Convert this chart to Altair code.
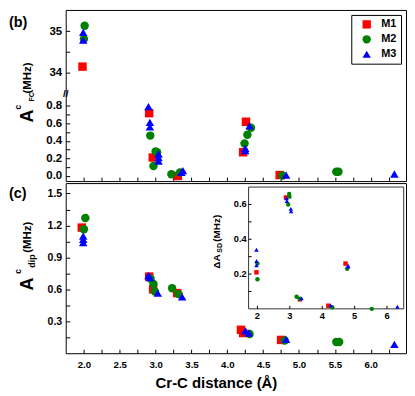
import altair as alt
import pandas as pd

SERIES = ["M1", "M2", "M3"]
COLORS = ["#ff0000", "#008000", "#0000ff"]
SHAPES = ["square", "circle", "triangle-up"]

# ---- panel (b): Fermi-contact term A^C_FC (MHz)
b_m1_d = [1.98, 2.91, 2.96, 3.31, 4.26, 4.22, 4.73]
b_m1_v = [34.14, 0.716, 0.21, 0.0, 0.618, 0.27, 0.01]
b_m2_d = [2.01, 2.00, 2.925, 3.00, 3.02, 2.97, 3.22, 3.34, 4.33, 4.28, 4.24, 4.77, 5.52, 5.55]
b_m2_v = [35.13, 34.81, 0.46, 0.28, 0.27, 0.114, 0.02, 0.04, 0.55, 0.47, 0.37, 0.005, 0.048, 0.048]
b_m3_d = [1.99, 1.99, 2.90, 2.92, 2.92, 3.04, 3.04, 3.04, 3.36, 3.38, 4.31, 4.25, 4.25, 4.82, 6.33]
b_m3_v = [34.97, 34.78, 0.79, 0.61, 0.56, 0.25, 0.21, 0.17, 0.04, 0.06, 0.57, 0.315, 0.29, 0.01, 0.022]

# ---- panel (c): dipolar term A^C_dip (MHz)
c_m1_d = [1.97, 2.91, 2.965, 3.30, 4.19, 4.22, 4.75]
c_m1_v = [1.18, 0.72, 0.60, 0.565, 0.22, 0.19, 0.125]
c_m2_d = [2.02, 2.00, 2.93, 2.97, 2.99, 3.23, 3.32, 4.31, 4.80, 5.52, 5.56]
c_m2_v = [1.27, 1.165, 0.70, 0.65, 0.58, 0.61, 0.555, 0.18, 0.12, 0.105, 0.105]
c_m3_d = [1.99, 1.99, 1.99, 2.90, 2.92, 3.03, 3.37, 4.25, 4.30, 4.82, 6.33]
c_m3_v = [1.10, 1.07, 1.04, 0.73, 0.71, 0.565, 0.53, 0.21, 0.19, 0.13, 0.084]

# ---- inset: Delta A_SD (MHz)
i_m1_d = [1.97, 2.88, 3.31, 4.19, 4.72]
i_m1_v = [0.21, 0.64, 0.055, 0.018, 0.26]
i_m2_d = [2.00, 2.00, 2.98, 2.99, 2.95, 3.21, 3.31, 4.31, 4.77, 5.53]
i_m2_v = [0.26, 0.17, 0.66, 0.645, 0.60, 0.07, 0.058, 0.009, 0.23, 0.0]
i_m3_d = [1.97, 1.97, 1.97, 2.90, 2.91, 3.03, 3.04, 3.36, 4.26, 4.80, 4.80, 6.32]
i_m3_v = [0.34, 0.275, 0.25, 0.635, 0.62, 0.575, 0.56, 0.06, 0.02, 0.248, 0.243, 0.012]

# ---- tick values
X_TICKS = [2.0, 2.25, 2.5, 2.75, 3.0, 3.25, 3.5, 3.75, 4.0, 4.25, 4.5, 4.75, 5.0, 5.25, 5.5, 5.75, 6.0, 6.25]
B_TICKS = [0.0, 0.1, 0.2, 0.3, 0.4, 0.5, 0.6, 0.7, 0.8, 34.0, 34.5, 35.0]
C_TICKS = [0.15, 0.3, 0.45, 0.6, 0.75, 0.9, 1.05, 1.2, 1.35, 1.5]
I_X_TICKS = [2, 3, 4, 5, 6]
I_Y_TICKS = [0.1, 0.2, 0.3, 0.4, 0.5, 0.6]
I_Y_LABELS = [0.2, 0.4, 0.6]

FONT = "Liberation Sans"

# ---- layout (pixels) and domains
W, HB, HC, BRK = 342, 172, 171, 84
TK = 4
XD0, XD1 = 1.746, 6.492          # main x domain
CD0, CD1 = 0.0, 1.598            # panel (c) y domain
IXD0, IXD1 = 1.727, 6.516        # inset x domain
IYD0, IYD1 = 0.0, 0.7            # inset y domain
IX0, IX1, IY0, IY1 = 183.8, 339.7, 4.0, 126.4   # inset box inside panel (c)
ITK = 3


def table(groups):
    rows = []
    for s, xs, ys in groups:
        for x, y in zip(xs, ys):
            rows.append({"d": x, "v": y, "s": s})
    return pd.DataFrame(rows)


df_b = table([("M1", b_m1_d, b_m1_v), ("M2", b_m2_d, b_m2_v), ("M3", b_m3_d, b_m3_v)])
df_c = table([("M1", c_m1_d, c_m1_v), ("M2", c_m2_d, c_m2_v), ("M3", c_m3_d, c_m3_v)])
df_i = table([("M1", i_m1_d, i_m1_v), ("M2", i_m2_d, i_m2_v), ("M3", i_m3_d, i_m3_v)])


def every(step, fmt):
    # label only ticks that are multiples of `step`
    return (f"abs(datum.value / {step} - round(datum.value / {step})) < 0.01 ? "
            f"format(datum.value, '{fmt}') : ''")


def label(t, x, y, size, angle=0, align="left", baseline="alphabetic"):
    return alt.Chart(pd.DataFrame({"t": [t]})).mark_text(
        align=align, baseline=baseline, angle=angle, fontSize=size,
        fontWeight="bold", font=FONT, color="black"
    ).encode(x=alt.value(x), y=alt.value(y), text="t:N")


def color_shape(legend):
    return dict(
        color=alt.Color("s:N", scale=alt.Scale(domain=SERIES, range=COLORS), legend=legend),
        shape=alt.Shape("s:N", scale=alt.Scale(domain=SERIES, range=SHAPES), legend=legend),
    )


x_scale = alt.Scale(domain=[XD0, XD1], nice=False, zero=False)

leg = alt.Legend(
    orient="none", legendX=287, legendY=5, title=None, strokeColor="black",
    fillColor="white", padding=4, symbolOffset=6, labelOffset=9, rowPadding=3,
    labelFontSize=11, labelFontWeight="bold", labelFont=FONT, labelColor="black",
    symbolSize=70, symbolStrokeWidth=0,
)

# ---------------- panel (b)
b_x_axis = alt.Axis(values=X_TICKS, labels=False, title=None, domain=False,
                    tickSize=TK, offset=-TK, grid=False)
b_y_expr = ("datum.value > 10 ? (abs(datum.value - round(datum.value)) < 0.01 ? format(datum.value, 'd') : '') : "
            "(abs(datum.value / 0.2 - round(datum.value / 0.2)) < 0.01 ? format(datum.value, '.1f') : '')")
b_y_axis = alt.Axis(values=B_TICKS, labelExpr=b_y_expr, title=None, domain=False,
                    tickSize=TK, offset=-TK, labelPadding=4, labelFontSize=11.5,
                    grid=False, labelOverlap=False)
b_y_scale = alt.Scale(domain=[-0.059, 0.94, 33.49, 35.51], range=[HB, BRK, BRK, 0],
                      nice=False, zero=False)

b_pts = alt.Chart(df_b).mark_point(filled=True, opacity=1, size=72).encode(
    x=alt.X("d:Q", scale=x_scale, axis=b_x_axis),
    y=alt.Y("v:Q", scale=b_y_scale, axis=b_y_axis),
    **color_shape(leg),
)

panel_b = alt.layer(
    b_pts,
    label("(b)", -57, 17, 14.5),
    label("A", -33, 113, 18, angle=270),
    label("c", -44.5, 100, 8.5, angle=270),
    label("FC", -31.5, 92, 7, angle=270),
    label("(MHz)", -35, 84, 11.5, angle=270),
    label("//", 0, BRK, 10, align="center", baseline="middle"),
).properties(width=W, height=HB)

# ---------------- panel (c)
c_x_axis = alt.Axis(values=X_TICKS, labelExpr=every(0.5, ".1f"),
                    title="Cr-C distance (Å)", titleX=151, titleY=33, titleBaseline="middle",
                    titleFontSize=15, domain=False, tickSize=TK, offset=-TK,
                    labelPadding=6, labelFontSize=9.7, grid=False, labelOverlap=False)
c_y_axis = alt.Axis(values=C_TICKS, labelExpr=every(0.3, ".1f"), title=None, orient="left",
                    domain=False, tickSize=TK, offset=-TK, labelPadding=4,
                    labelFontSize=10.6, grid=False, labelOverlap=False)
c_y_scale = alt.Scale(domain=[CD0, CD1], nice=False, zero=False)

c_pts = alt.Chart(df_c).mark_point(filled=True, opacity=1, size=72).encode(
    x=alt.X("d:Q", scale=x_scale, axis=c_x_axis),
    y=alt.Y("v:Q", scale=c_y_scale, axis=c_y_axis),
    **color_shape(None),
)

# the inset's own linear axes are mapped onto the panel's shared scales
IXS = (IX1 - IX0) / (IXD1 - IXD0)     # px per inset x unit
IYS = (IY1 - IY0) / (IYD1 - IYD0)     # px per inset y unit
KX = (XD1 - XD0) / W                  # panel x units per px
KY = (CD1 - CD0) / HC                 # panel y units per px
X_IN = f"{XD0} + ({IX0} + (datum.d - {IXD0}) * {IXS}) * {KX}"
Y_IN = f"{CD0} + ({HC} - {IY1} + (datum.v - {IYD0}) * {IYS}) * {KY}"

# every layer that uses the shared scales carries the same axis definitions,
# so the merged axes are identical to the main ones
i_pts = alt.Chart(df_i).transform_calculate(xm=X_IN, ym=Y_IN).mark_point(
    filled=True, opacity=1, size=20
).encode(
    x=alt.X("xm:Q", scale=x_scale, axis=c_x_axis),
    y=alt.Y("ym:Q", scale=c_y_scale, axis=c_y_axis),
    **color_shape(None),
)

inset_frame = alt.Chart(pd.DataFrame({"k": [0]})).mark_rect(
    fill="white", stroke="#333333", strokeWidth=1
).encode(x=alt.value(IX0), x2=alt.value(IX1), y=alt.value(IY0), y2=alt.value(IY1))

i_xticks = alt.Chart(pd.DataFrame({"d": I_X_TICKS})).transform_calculate(xm=X_IN).mark_rule(
    color="black", strokeWidth=1
).encode(x=alt.X("xm:Q", scale=x_scale, axis=c_x_axis), y=alt.value(IY1 - ITK), y2=alt.value(IY1))
i_xlabels = alt.Chart(pd.DataFrame({"d": I_X_TICKS})).transform_calculate(xm=X_IN).mark_text(
    baseline="top", align="center", fontSize=9.3, fontWeight="bold", font=FONT, color="black"
).encode(x=alt.X("xm:Q", scale=x_scale, axis=c_x_axis), y=alt.value(IY1 + 3),
         text=alt.Text("d:Q", format="d"))
i_yticks = alt.Chart(pd.DataFrame({"v": I_Y_TICKS})).transform_calculate(ym=Y_IN).mark_rule(
    color="black", strokeWidth=1
).encode(y=alt.Y("ym:Q", scale=c_y_scale, axis=c_y_axis), x=alt.value(IX0), x2=alt.value(IX0 + ITK))
i_ylabels = alt.Chart(pd.DataFrame({"v": I_Y_LABELS})).transform_calculate(ym=Y_IN).mark_text(
    baseline="middle", align="right", fontSize=9.3, fontWeight="bold", font=FONT, color="black"
).encode(y=alt.Y("ym:Q", scale=c_y_scale, axis=c_y_axis), x=alt.value(IX0 - 2),
         text=alt.Text("v:Q", format=".1f"))

panel_c = alt.layer(
    c_pts,
    inset_frame,
    i_xticks,
    i_yticks,
    i_pts,
    i_xlabels,
    i_ylabels,
    label("(c)", -57, 15, 14.5),
    label("A", -33, 108, 18, angle=270),
    label("c", -44.5, 91, 8.5, angle=270),
    label("dip", -30.5, 85, 9, angle=270),
    label("(MHz)", -35, 70, 11.5, angle=270),
    label("ΔA", 155.5, 86, 10, angle=270),
    label("SD", 157, 70, 7, angle=270),
    label("(MHz)", 155.5, 59, 10, angle=270),
).properties(width=W, height=HC)

chart = (
    alt.vconcat(panel_b, panel_c, spacing=0)
    .resolve_legend(color="independent", shape="independent")
    .properties(padding=0, background="white")
    .configure_view(stroke="black", strokeWidth=1)
    .configure_axis(labelFont=FONT, labelFontWeight="bold", labelColor="black",
                    tickColor="black", titleFont=FONT, titleFontWeight="bold",
                    titleColor="black")
)

chart.save("out.html", embed_options={"renderer": "svg", "actions": False})
